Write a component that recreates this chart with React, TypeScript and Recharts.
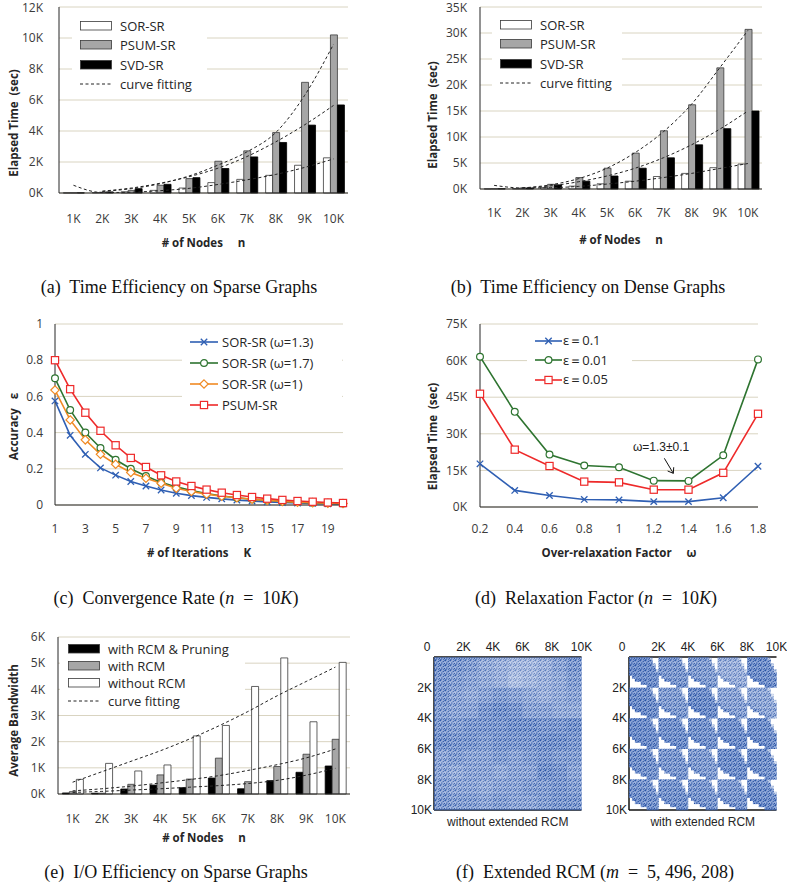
import React from 'react';
import {
  ComposedChart,
  LineChart,
  ScatterChart,
  Bar,
  Line,
  Scatter,
  XAxis,
  YAxis,
  CartesianGrid,
  Legend,
  ReferenceDot,
  ReferenceLine,
} from 'recharts';

const SANS = '"Open Sans", "Noto Sans", sans-serif';
const SERIF = '"Liberation Serif", "DejaVu Serif", serif';
const HELV = '"Liberation Sans", Arial, sans-serif';
const GRID = '#d9d4c1';
const FRAME = '#262626';
const BAR_EDGE = '#3a3a3a';
const TICK = { fontFamily: SANS, fontSize: 12, fill: '#3a3a3a' };

// ---- (a) sparse graphs, elapsed time (K sec)
const NODES = ['1K', '2K', '3K', '4K', '5K', '6K', '7K', '8K', '9K', '10K'];
const SPARSE_SOR = [0.01, 0.03, 0.08, 0.17, 0.32, 0.67, 0.88, 1.14, 1.79, 2.27];
const SPARSE_PSUM = [0.01, 0.05, 0.17, 0.5, 0.93, 2.05, 2.72, 3.9, 7.14, 10.2];
const SPARSE_SVD = [0.01, 0.07, 0.28, 0.56, 0.99, 1.58, 2.33, 3.26, 4.38, 5.68];
const SPARSE_FIT_SOR = [0.5, 0.03, 0.05, 0.15, 0.3, 0.55, 0.85, 1.2, 1.65, 2.2];
const SPARSE_FIT_PSUM = [null, 0.1, 0.28, 0.6, 1.1, 1.8, 2.65, 3.9, 6.3, 9.6];
const SPARSE_FIT_SVD = [null, 0.12, 0.32, 0.63, 1.05, 1.6, 2.35, 3.3, 4.4, 5.65];

// ---- (b) dense graphs, elapsed time (K sec)
const DENSE_SOR = [0.03, 0.1, 0.3, 0.55, 1.0, 1.5, 2.4, 3.0, 4.1, 4.8];
const DENSE_PSUM = [0.05, 0.2, 0.9, 2.2, 4.0, 6.9, 11.2, 16.2, 23.3, 30.7];
const DENSE_SVD = [0.05, 0.2, 0.8, 1.5, 2.5, 4.0, 6.0, 8.5, 11.6, 15.0];
const DENSE_FIT_SOR = [0.7, 0.2, 0.25, 0.5, 0.95, 1.5, 2.2, 3.0, 3.95, 4.9];
const DENSE_FIT_PSUM = [null, 0.2, 0.8, 2.0, 4.0, 7.0, 11.0, 16.3, 23.3, 30.5];
const DENSE_FIT_SVD = [null, 0.2, 0.6, 1.4, 2.5, 4.0, 6.0, 8.5, 11.5, 15.0];

// ---- (c) convergence, accuracy per iteration
const ITERS = [1, 2, 3, 4, 5, 6, 7, 8, 9, 10, 11, 12, 13, 14, 15, 16, 17, 18, 19, 20];
const CONV_W13 = [0.575, 0.385, 0.28, 0.205, 0.165, 0.13, 0.105, 0.083, 0.065, 0.052, 0.042, 0.034, 0.027, 0.022, 0.017, 0.014, 0.011, 0.009, 0.007, 0.006];
const CONV_W17 = [0.7, 0.525, 0.4, 0.315, 0.25, 0.2, 0.16, 0.125, 0.1, 0.08, 0.064, 0.05, 0.04, 0.032, 0.026, 0.02, 0.016, 0.013, 0.01, 0.008];
const CONV_W1 = [0.635, 0.47, 0.36, 0.28, 0.225, 0.18, 0.148, 0.12, 0.093, 0.075, 0.06, 0.048, 0.04, 0.032, 0.026, 0.02, 0.016, 0.013, 0.01, 0.008];
const CONV_PSUM = [0.8, 0.64, 0.51, 0.41, 0.33, 0.26, 0.21, 0.164, 0.13, 0.105, 0.085, 0.068, 0.055, 0.044, 0.035, 0.028, 0.022, 0.018, 0.014, 0.011];
const ITER_TICKS = [1, 3, 5, 7, 9, 11, 13, 15, 17, 19];

// ---- (d) relaxation factor, elapsed time (K sec)
const OMEGAS = [0.2, 0.4, 0.6, 0.8, 1, 1.2, 1.4, 1.6, 1.8];
const RELAX_E01 = [17.7, 6.8, 4.7, 3.1, 2.9, 2.2, 2.2, 3.8, 16.7];
const RELAX_E001 = [61.6, 39.0, 21.5, 17.0, 16.3, 10.8, 10.7, 21.2, 60.5];
const RELAX_E005 = [46.4, 23.5, 16.8, 10.4, 10.1, 7.1, 7.1, 14.0, 38.2];
const RELAX_NOTE = 'ω=1.3±0.1';
const NOTE_AT = { x: 1.242, y: 24.7 };
const ARROW = [{ x: 1.261, y: 19.96 }, { x: 1.3125, y: 13.8 }];
const ARROW_WING_A = [{ x: 1.3125, y: 13.8 }, { x: 1.28, y: 14.75 }];
const ARROW_WING_B = [{ x: 1.3125, y: 13.8 }, { x: 1.315, y: 16.3 }];

// ---- (e) average bandwidth (K)
const BW_PRUNE = [0.04, 0.03, 0.19, 0.34, 0.24, 0.61, 0.2, 0.51, 0.83, 1.07];
const BW_RCM = [0.09, 0.03, 0.37, 0.73, 0.57, 1.37, 0.47, 1.05, 1.52, 2.09];
const BW_PLAIN = [0.56, 1.17, 0.88, 1.11, 2.22, 2.62, 4.11, 5.2, 2.76, 5.03];
const BW_FIT_PLAIN = [0.45, 0.85, 1.25, 1.65, 2.1, 2.6, 3.15, 3.75, 4.3, 4.85];
const BW_FIT_RCM = [0.12, 0.2, 0.3, 0.42, 0.55, 0.7, 0.9, 1.12, 1.38, 1.72];
const BW_FIT_PRUNE = [0.06, 0.1, 0.15, 0.2, 0.26, 0.32, 0.4, 0.52, 0.72, 0.98];

// ---- (f) adjacency matrix density (rows = y in 1K steps, cols = x in 1K steps)
const PLAIN_DENSITY = [
  [0.75, 0.7, 0.65, 0.55, 0.5, 0.45, 0.45, 0.5, 0.6, 0.7],
  [0.7, 0.65, 0.6, 0.55, 0.5, 0.4, 0.45, 0.5, 0.55, 0.65],
  [0.7, 0.6, 0.55, 0.6, 0.65, 0.6, 0.55, 0.5, 0.55, 0.6],
  [0.65, 0.6, 0.6, 0.7, 0.75, 0.7, 0.6, 0.6, 0.55, 0.55],
  [0.7, 0.65, 0.7, 0.7, 0.7, 0.75, 0.75, 0.7, 0.7, 0.75],
  [0.75, 0.7, 0.7, 0.65, 0.7, 0.7, 0.7, 0.75, 0.75, 0.7],
  [0.6, 0.65, 0.6, 0.6, 0.65, 0.6, 0.65, 0.7, 0.65, 0.65],
  [0.6, 0.55, 0.6, 0.6, 0.55, 0.6, 0.6, 0.75, 0.7, 0.6],
  [0.65, 0.6, 0.6, 0.55, 0.6, 0.6, 0.65, 0.65, 0.7, 0.65],
  [0.7, 0.65, 0.65, 0.6, 0.65, 0.6, 0.6, 0.65, 0.7, 0.7],
];
// 5x5 blocks of 2K nodes each
const RCM_BLOCK_DENSITY = [
  [0.85, 0.7, 0.65, 0.5, 0.8],
  [0.8, 0.65, 0.8, 0.6, 0.55],
  [0.85, 0.8, 0.75, 0.8, 0.8],
  [0.75, 0.7, 0.65, 0.8, 0.75],
  [0.75, 0.75, 0.7, 0.7, 0.8],
];
// shape of the non-zero region inside one block (10x10 sub-cells), '@' = dense rim
const RCM_LEAF = [
  '#######+..',
  '########..',
  '########+.',
  '#########.',
  '#########+',
  '@#########',
  '.@########',
  '..@@######',
  '....@@####',
  '......@@@#',
];
const MATRIX_TICKS = [0, 2000, 4000, 6000, 8000, 10000];

// ---------- helpers
const fmtK = (v: number) => `${v}K`;
const fmtMatrix = (v: number) => (v === 0 ? '0' : `${v / 1000}K`);
const nb = (s: string) => s.replace(/ /g, '\u00a0');

const yTitle = (text: string, cx: number, shift: number) => (props: any) => {
  const vb = props.viewBox ?? { x: 0, y: 0, width: 0, height: 0 };
  const x = cx;
  const y = vb.y + vb.height / 2 + shift;
  return (
    <text
      x={x}
      y={y}
      transform={`rotate(-90 ${x} ${y})`}
      textAnchor="middle"
      dominantBaseline="central"
      style={{ fontFamily: SANS, fontSize: 11.5, fontWeight: 700, fill: '#262626' }}
    >
      {nb(text)}
    </text>
  );
};

const xTitle = (text: string, dy: number, font = SANS, bold = true, size = 11.5) => (props: any) => {
  const vb = props.viewBox ?? { x: 0, y: 0, width: 0, height: 0 };
  return (
    <text
      x={vb.x + vb.width / 2}
      y={vb.y + dy}
      textAnchor="middle"
      style={{ fontFamily: font, fontSize: size, fontWeight: bold ? 700 : 400, fill: '#262626' }}
    >
      {nb(text)}
    </text>
  );
};

type MarkKind = 'x' | 'circle' | 'diamond' | 'square';

function Mark({ kind, cx, cy, color }: { kind: MarkKind; cx: number; cy: number; color: string }) {
  if (cx == null || cy == null) return null;
  if (kind === 'x') {
    const r = 3.2;
    return (
      <g stroke={color} strokeWidth={1.3}>
        <line x1={cx - r} y1={cy - r} x2={cx + r} y2={cy + r} />
        <line x1={cx - r} y1={cy + r} x2={cx + r} y2={cy - r} />
      </g>
    );
  }
  if (kind === 'circle') return <circle cx={cx} cy={cy} r={3.4} fill="#fff" stroke={color} strokeWidth={1.2} />;
  if (kind === 'diamond') {
    const r = 4.2;
    return (
      <polygon
        points={`${cx},${cy - r} ${cx + r},${cy} ${cx},${cy + r} ${cx - r},${cy}`}
        fill="#fff"
        stroke={color}
        strokeWidth={1.2}
      />
    );
  }
  return <rect x={cx - 3.6} y={cy - 3.6} width={7.2} height={7.2} fill="#fff" stroke={color} strokeWidth={1.2} />;
}

const dotOf = (kind: MarkKind, color: string) => (p: any) => (
  <Mark key={`m-${p.index}`} kind={kind} cx={p.cx} cy={p.cy} color={color} />
);

type Swatch = {
  label: string;
  kind: 'bar' | 'dash' | 'line';
  fill?: string;
  color?: string;
  mark?: MarkKind;
};

function BoxLegend({ items, rowH, swW, gap, padY }: { items: Swatch[]; rowH: number; swW: number; gap: number; padY: number }) {
  return (
    <div style={{ background: '#fff', padding: `${padY}px 8px`, fontFamily: SANS, fontSize: 13, color: '#262626' }}>
      {items.map((it) => (
        <div key={it.label} style={{ display: 'flex', alignItems: 'center', height: rowH, whiteSpace: 'nowrap' }}>
          <svg width={swW} height={12} style={{ flex: 'none' }}>
            {it.kind === 'bar' && <rect x={0.5} y={1.5} width={swW - 1} height={8.5} fill={it.fill} stroke={BAR_EDGE} strokeWidth={0.8} />}
            {it.kind === 'dash' && <line x1={0} y1={6} x2={swW} y2={6} stroke="#222" strokeWidth={1} strokeDasharray="3 2.5" />}
            {it.kind === 'line' && (
              <>
                <line x1={0} y1={6} x2={swW} y2={6} stroke={it.color} strokeWidth={1.6} />
                <Mark kind={it.mark as MarkKind} cx={swW / 2} cy={6} color={it.color as string} />
              </>
            )}
          </svg>
          <span style={{ marginLeft: gap }}>{it.label}</span>
        </div>
      ))}
    </div>
  );
}

type BarSpec = { key: string; fill: string };

type BarPanelProps = {
  left: number;
  top: number;
  width: number;
  height: number;
  margin: { top: number; right: number; left: number; bottom: number };
  yWidth: number;
  xHeight: number;
  xTickMargin: number;
  yTickMargin: number;
  yMax: number;
  yTicks: number[];
  yLabel: string;
  yLabelX: number;
  yLabelShift: number;
  xLabel: string;
  xLabelDy: number;
  data: any[];
  bars: BarSpec[];
  fits: string[];
  legend: Swatch[];
  legendPos: { left: number; top: number; width: number; rowH: number; padY: number };
};

function BarPanel(p: BarPanelProps) {
  return (
    <div style={{ position: 'absolute', left: p.left, top: p.top }}>
      <ComposedChart width={p.width} height={p.height} data={p.data} margin={p.margin} barCategoryGap="15%" barGap={0}>
        <CartesianGrid vertical={false} stroke={GRID} />
        <XAxis
          dataKey="n"
          interval={0}
          tickLine={false}
          tickSize={0}
          tickMargin={p.xTickMargin}
          height={p.xHeight}
          axisLine={{ stroke: FRAME }}
          tick={TICK}
          label={{ content: xTitle(p.xLabel, p.xLabelDy) } as any}
        />
        <XAxis xAxisId="top" dataKey="n" orientation="top" height={0} tick={false} tickLine={false} axisLine={{ stroke: FRAME }} />
        <YAxis
          domain={[0, p.yMax]}
          ticks={p.yTicks}
          tickFormatter={fmtK}
          tickLine={false}
          tickSize={0}
          tickMargin={p.yTickMargin}
          width={p.yWidth}
          axisLine={{ stroke: FRAME }}
          tick={TICK}
          label={{ content: yTitle(p.yLabel, p.yLabelX, p.yLabelShift) } as any}
        />
        <YAxis yAxisId="right" orientation="right" width={0} domain={[0, p.yMax]} tick={false} tickLine={false} axisLine={{ stroke: FRAME }} />
        {p.bars.map((b) => (
          <Bar key={b.key} dataKey={b.key} fill={b.fill} stroke={b.fill === '#000' ? '#000' : BAR_EDGE} strokeWidth={0.8} isAnimationActive={false} />
        ))}
        {p.fits.map((k) => (
          <Line
            key={k}
            dataKey={k}
            type="monotone"
            stroke="#222"
            strokeWidth={1}
            strokeDasharray="3 2.5"
            dot={false}
            activeDot={false}
            isAnimationActive={false}
          />
        ))}
        <Legend
          layout="vertical"
          align="center"
          verticalAlign="middle"
          wrapperStyle={{ left: p.legendPos.left, top: p.legendPos.top, width: p.legendPos.width }}
          content={() => <BoxLegend items={p.legend} rowH={p.legendPos.rowH} swW={32} gap={8} padY={p.legendPos.padY} />}
        />
      </ComposedChart>
    </div>
  );
}

function Caption({ cx, cy, children }: { cx: number; cy: number; children: React.ReactNode }) {
  const w = 400;
  return (
    <div
      style={{
        position: 'absolute',
        left: cx - w / 2,
        top: cy - 11,
        width: w,
        textAlign: 'center',
        fontFamily: SERIF,
        fontSize: 18,
        lineHeight: '22px',
        color: '#111',
        whiteSpace: 'nowrap',
      }}
    >
      {children}
    </div>
  );
}

// ---------- tables
const sparseRows = NODES.map((n, i) => ({
  n,
  sor: SPARSE_SOR[i],
  psum: SPARSE_PSUM[i],
  svd: SPARSE_SVD[i],
  fSor: SPARSE_FIT_SOR[i],
  fPsum: SPARSE_FIT_PSUM[i],
  fSvd: SPARSE_FIT_SVD[i],
}));
const denseRows = NODES.map((n, i) => ({
  n,
  sor: DENSE_SOR[i],
  psum: DENSE_PSUM[i],
  svd: DENSE_SVD[i],
  fSor: DENSE_FIT_SOR[i],
  fPsum: DENSE_FIT_PSUM[i],
  fSvd: DENSE_FIT_SVD[i],
}));
const bwRows = NODES.map((n, i) => ({
  n,
  prune: BW_PRUNE[i],
  rcm: BW_RCM[i],
  plain: BW_PLAIN[i],
  fPlain: BW_FIT_PLAIN[i],
  fRcm: BW_FIT_RCM[i],
  fPrune: BW_FIT_PRUNE[i],
}));
const convRows = ITERS.map((k, i) => ({ k, w13: CONV_W13[i], w17: CONV_W17[i], w1: CONV_W1[i], psum: CONV_PSUM[i] }));
const relaxRows = OMEGAS.map((w, i) => ({ w, e01: RELAX_E01[i], e001: RELAX_E001[i], e005: RELAX_E005[i] }));

const plainCells = PLAIN_DENSITY.flatMap((row, r) =>
  row.map((d, c) => ({ x: (c + 0.5) * 1000, y: (r + 0.5) * 1000, d })),
);
const LEAF_WEIGHT: Record<string, number> = { '#': 1, '@': 1.25, '+': 0.45 };
const rcmCells: { x: number; y: number; d: number }[] = [];
RCM_BLOCK_DENSITY.forEach((row, br) =>
  row.forEach((bd, bc) =>
    RCM_LEAF.forEach((line, lr) =>
      line.split('').forEach((ch, lc) => {
        const f = LEAF_WEIGHT[ch] ?? 0;
        if (f > 0) rcmCells.push({ x: bc * 2000 + (lc + 0.5) * 200, y: br * 2000 + (lr + 0.5) * 200, d: Math.min(1, bd * f) });
      }),
    ),
  ),
);

const BAR_SWATCH_SOR: Swatch[] = [
  { label: 'SOR-SR', kind: 'bar', fill: '#fff' },
  { label: 'PSUM-SR', kind: 'bar', fill: '#a6a6a6' },
  { label: 'SVD-SR', kind: 'bar', fill: '#000' },
  { label: 'curve fitting', kind: 'dash' },
];
const SR_BARS: BarSpec[] = [
  { key: 'sor', fill: '#fff' },
  { key: 'psum', fill: '#a6a6a6' },
  { key: 'svd', fill: '#000' },
];

const C_BLUE = '#2f5fb3';
const C_GREEN = '#2e7430';
const C_ORANGE = '#f08a24';
const C_RED = '#ee2a2a';

function cellShape(w: number, h: number) {
  return (p: any) => {
    const d = p.payload?.d ?? p.d ?? 0;
    return (
      <g>
        <rect x={p.cx - w / 2} y={p.cy - h / 2} width={w + 0.2} height={h + 0.2} fill="#6688cc" fillOpacity={d * 0.8} />
        <rect x={p.cx - w / 2} y={p.cy - h / 2} width={w + 0.2} height={h + 0.2} fill="url(#speckle)" fillOpacity={Math.min(1, d * 1.3)} />
      </g>
    );
  };
}

function MatrixPanel({ left, cells, label, cols }: { left: number; cells: any[]; label: string; cols: number }) {
  const plotW = 147.5;
  const plotH = 153;
  const tick = { fontFamily: HELV, fontSize: 12, fill: '#222' };
  return (
    <div style={{ position: 'absolute', left, top: 630 }}>
      <ScatterChart width={205} height={200} margin={{ top: 0, right: 18.5, bottom: 0, left: 0 }}>
        <XAxis
          xAxisId="t"
          type="number"
          dataKey="x"
          orientation="top"
          domain={[0, 10000]}
          ticks={MATRIX_TICKS}
          tickFormatter={fmtMatrix}
          height={27}
          tickLine={false}
          tickSize={0}
          tickMargin={3}
          interval={0}
          axisLine={{ stroke: '#111', strokeWidth: 1.5 }}
          tick={(tp: any) => (
            <text x={tp.x + (tp.payload.value === 0 ? -7 : 0)} y={tp.y - 3} textAnchor="middle" style={tick}>
              {fmtMatrix(tp.payload.value)}
            </text>
          )}
        />
        <XAxis
          xAxisId="b"
          type="number"
          orientation="bottom"
          domain={[0, 10000]}
          height={20}
          tick={false}
          tickLine={false}
          axisLine={{ stroke: '#111', strokeWidth: 1.5 }}
          label={{ content: xTitle(label, 16, HELV, false, 12) } as any}
        />
        <YAxis
          type="number"
          dataKey="y"
          reversed
          domain={[0, 10000]}
          ticks={MATRIX_TICKS.slice(1)}
          tickFormatter={fmtMatrix}
          width={39}
          tickLine={false}
          tickSize={0}
          tickMargin={2}
          interval={0}
          axisLine={{ stroke: '#111', strokeWidth: 1.5 }}
          tick={tick}
        />
        <YAxis yAxisId="r" orientation="right" type="number" domain={[0, 10000]} width={0} tick={false} tickLine={false} axisLine={{ stroke: '#111', strokeWidth: 1.5 }} />
        <Scatter xAxisId="t" data={cells} shape={cellShape(plotW / cols, plotH / cols)} isAnimationActive={false} />
      </ScatterChart>
    </div>
  );
}

export default function App() {
  return (
    <div style={{ position: 'absolute', left: 0, top: 0, width: 787, height: 890, background: '#fff', overflow: 'hidden' }}>
      <svg width={0} height={0} style={{ position: 'absolute' }}>
        <defs>
          <pattern id="speckle" width={5} height={5} patternUnits="userSpaceOnUse">
            <rect x={0} y={0} width={1.3} height={1.3} fill="#2550a3" />
            <rect x={2.6} y={0.8} width={1.3} height={1.3} fill="#2550a3" />
            <rect x={1.2} y={2.4} width={1.3} height={1.3} fill="#2550a3" />
            <rect x={3.8} y={2.9} width={1.2} height={1.3} fill="#2550a3" />
            <rect x={0.3} y={3.9} width={1.3} height={1.1} fill="#2550a3" />
            <rect x={2.8} y={4.2} width={1.1} height={0.8} fill="#2550a3" />
            <rect x={4.2} y={0.2} width={0.8} height={1.0} fill="#2550a3" />
          </pattern>
        </defs>
      </svg>

      <BarPanel
        left={0}
        top={0}
        width={360}
        height={250}
        margin={{ top: 7, right: 12, left: 0, bottom: 0 }}
        yWidth={59}
        xHeight={57}
        xTickMargin={21}
        yTickMargin={16}
        yMax={12}
        yTicks={[0, 2, 4, 6, 8, 10, 12]}
        yLabel="Elapsed Time  (sec)"
        yLabelX={13}
        yLabelShift={23}
        xLabel="# of Nodes     n"
        xLabelDy={54}
        data={sparseRows}
        bars={SR_BARS}
        fits={['fSor', 'fPsum', 'fSvd']}
        legend={BAR_SWATCH_SOR}
        legendPos={{ left: 72, top: 12, width: 135, rowH: 19.5, padY: 4 }}
      />

      <BarPanel
        left={395}
        top={0}
        width={380}
        height={250}
        margin={{ top: 7, right: 13, left: 0, bottom: 0 }}
        yWidth={85}
        xHeight={61}
        xTickMargin={19}
        yTickMargin={13}
        yMax={35}
        yTicks={[0, 5, 10, 15, 20, 25, 30, 35]}
        yLabel="Elapsed Time  (sec)"
        yLabelX={37}
        yLabelShift={17}
        xLabel="# of Nodes     n"
        xLabelDy={55}
        data={denseRows}
        bars={SR_BARS}
        fits={['fSor', 'fPsum', 'fSvd']}
        legend={BAR_SWATCH_SOR}
        legendPos={{ left: 97, top: 11, width: 130, rowH: 19.5, padY: 4 }}
      />

      {/* (c) */}
      <div style={{ position: 'absolute', left: 0, top: 310 }}>
        <LineChart width={360} height={250} data={convRows} margin={{ top: 14, right: 17, left: 0, bottom: 0 }}>
          <CartesianGrid vertical={false} stroke={GRID} />
          <XAxis
            dataKey="k"
            type="number"
            domain={[1, 20]}
            ticks={ITER_TICKS}
            interval={0}
            tickLine={false}
            tickSize={0}
            tickMargin={19}
            height={55}
            axisLine={{ stroke: FRAME }}
            tick={TICK}
            label={{ content: xTitle('# of Iterations     K', 52) } as any}
          />
          <XAxis xAxisId="top" type="number" domain={[1, 20]} orientation="top" height={0} tick={false} tickLine={false} axisLine={{ stroke: FRAME }} />
          <YAxis
            domain={[0, 1]}
            ticks={[0, 0.2, 0.4, 0.6, 0.8, 1]}
            tickLine={false}
            tickSize={0}
            tickMargin={12}
            width={55}
            axisLine={{ stroke: FRAME }}
            tick={TICK}
            label={{ content: yTitle('Accuracy   ε', 13, 12) } as any}
          />
          <YAxis yAxisId="right" orientation="right" width={0} domain={[0, 1]} tick={false} tickLine={false} axisLine={{ stroke: FRAME }} />
          <Line dataKey="w13" stroke={C_BLUE} strokeWidth={1.6} dot={dotOf('x', C_BLUE)} activeDot={false} isAnimationActive={false} />
          <Line dataKey="w17" stroke={C_GREEN} strokeWidth={1.6} dot={dotOf('circle', C_GREEN)} activeDot={false} isAnimationActive={false} />
          <Line dataKey="w1" stroke={C_ORANGE} strokeWidth={1.6} dot={dotOf('diamond', C_ORANGE)} activeDot={false} isAnimationActive={false} />
          <Line dataKey="psum" stroke={C_RED} strokeWidth={1.6} dot={dotOf('square', C_RED)} activeDot={false} isAnimationActive={false} />
          <Legend
            layout="vertical"
            align="center"
            verticalAlign="middle"
            wrapperStyle={{ left: 182, top: 17, width: 160 }}
            content={() => (
              <BoxLegend
                rowH={21}
                swW={28}
                gap={4}
                padY={4}
                items={[
                  { label: 'SOR-SR (ω=1.3)', kind: 'line', color: C_BLUE, mark: 'x' },
                  { label: 'SOR-SR (ω=1.7)', kind: 'line', color: C_GREEN, mark: 'circle' },
                  { label: 'SOR-SR (ω=1)', kind: 'line', color: C_ORANGE, mark: 'diamond' },
                  { label: 'PSUM-SR', kind: 'line', color: C_RED, mark: 'square' },
                ]}
              />
            )}
          />
        </LineChart>
      </div>

      {/* (d) */}
      <div style={{ position: 'absolute', left: 395, top: 310 }}>
        <LineChart width={380} height={250} data={relaxRows} margin={{ top: 14, right: 17, left: 0, bottom: 0 }}>
          <CartesianGrid vertical={false} stroke={GRID} />
          <XAxis
            dataKey="w"
            type="number"
            domain={[0.2, 1.8]}
            ticks={OMEGAS}
            interval={0}
            tickLine={false}
            tickSize={0}
            tickMargin={17}
            height={53}
            axisLine={{ stroke: FRAME }}
            tick={TICK}
            label={{ content: xTitle('Over-relaxation Factor     ω', 50) } as any}
          />
          <XAxis xAxisId="top" type="number" domain={[0.2, 1.8]} orientation="top" height={0} tick={false} tickLine={false} axisLine={{ stroke: FRAME }} />
          <YAxis
            domain={[0, 75]}
            ticks={[0, 15, 30, 45, 60, 75]}
            tickFormatter={fmtK}
            tickLine={false}
            tickSize={0}
            tickMargin={13}
            width={85}
            axisLine={{ stroke: FRAME }}
            tick={TICK}
            label={{ content: yTitle('Elapsed Time  (sec)', 37, 21) } as any}
          />
          <YAxis yAxisId="right" orientation="right" width={0} domain={[0, 75]} tick={false} tickLine={false} axisLine={{ stroke: FRAME }} />
          <Line dataKey="e01" stroke={C_BLUE} strokeWidth={1.6} dot={dotOf('x', C_BLUE)} activeDot={false} isAnimationActive={false} />
          <Line dataKey="e001" stroke={C_GREEN} strokeWidth={1.6} dot={dotOf('circle', C_GREEN)} activeDot={false} isAnimationActive={false} />
          <Line dataKey="e005" stroke={C_RED} strokeWidth={1.6} dot={dotOf('square', C_RED)} activeDot={false} isAnimationActive={false} />
          <ReferenceLine segment={ARROW} stroke="#111" strokeWidth={1} />
          <ReferenceLine segment={ARROW_WING_A} stroke="#111" strokeWidth={1} />
          <ReferenceLine segment={ARROW_WING_B} stroke="#111" strokeWidth={1} />
          <ReferenceDot
            x={NOTE_AT.x}
            y={NOTE_AT.y}
            r={0}
            fill="none"
            stroke="none"
            label={{ value: RELAX_NOTE, position: 'center', style: { fontFamily: HELV, fontSize: 12, fill: '#222' } } as any}
          />
          <Legend
            layout="vertical"
            align="center"
            verticalAlign="middle"
            wrapperStyle={{ left: 132, top: 17, width: 105 }}
            content={() => (
              <BoxLegend
                rowH={19.5}
                swW={27}
                gap={1}
                padY={4}
                items={[
                  { label: 'ε＝0.1', kind: 'line', color: C_BLUE, mark: 'x' },
                  { label: 'ε＝0.01', kind: 'line', color: C_GREEN, mark: 'circle' },
                  { label: 'ε＝0.05', kind: 'line', color: C_RED, mark: 'square' },
                ]}
              />
            )}
          />
        </LineChart>
      </div>

      <BarPanel
        left={0}
        top={595}
        width={360}
        height={250}
        margin={{ top: 42, right: 10, left: 0, bottom: 0 }}
        yWidth={58}
        xHeight={51}
        xTickMargin={20}
        yTickMargin={13}
        yMax={6}
        yTicks={[0, 1, 2, 3, 4, 5, 6]}
        yLabel="Average Bandwidth"
        yLabelX={13}
        yLabelShift={5}
        xLabel="# of Nodes     n"
        xLabelDy={48}
        data={bwRows}
        bars={[
          { key: 'prune', fill: '#000' },
          { key: 'rcm', fill: '#a6a6a6' },
          { key: 'plain', fill: '#fff' },
        ]}
        fits={['fPlain', 'fRcm', 'fPrune']}
        legend={[
          { label: 'with RCM & Pruning', kind: 'bar', fill: '#000' },
          { label: 'with RCM', kind: 'bar', fill: '#a6a6a6' },
          { label: 'without RCM', kind: 'bar', fill: '#fff' },
          { label: 'curve fitting', kind: 'dash' },
        ]}
        legendPos={{ left: 60, top: 43, width: 185, rowH: 17.3, padY: 2 }}
      />

      <MatrixPanel left={395} cells={plainCells} label="without extended RCM" cols={10} />
      <MatrixPanel left={590} cells={rcmCells} label="with extended RCM" cols={50} />

      <Caption cx={179} cy={287}>(a)&nbsp; Time Efficiency on Sparse Graphs</Caption>
      <Caption cx={588} cy={287}>(b)&nbsp; Time Efficiency on Dense Graphs</Caption>
      <Caption cx={176} cy={598}>
        (c)&nbsp; Convergence Rate (<i>n</i>&nbsp; = &nbsp;10<i>K</i>)
      </Caption>
      <Caption cx={596} cy={598}>
        (d)&nbsp; Relaxation Factor (<i>n</i>&nbsp; = &nbsp;10<i>K</i>)
      </Caption>
      <Caption cx={176} cy={872}>(e)&nbsp; I/O Efficiency on Sparse Graphs</Caption>
      <Caption cx={595} cy={872}>
        (f)&nbsp; Extended RCM (<i>m</i>&nbsp; = &nbsp;5<i>,</i> 496<i>,</i> 208)
      </Caption>
    </div>
  );
}
